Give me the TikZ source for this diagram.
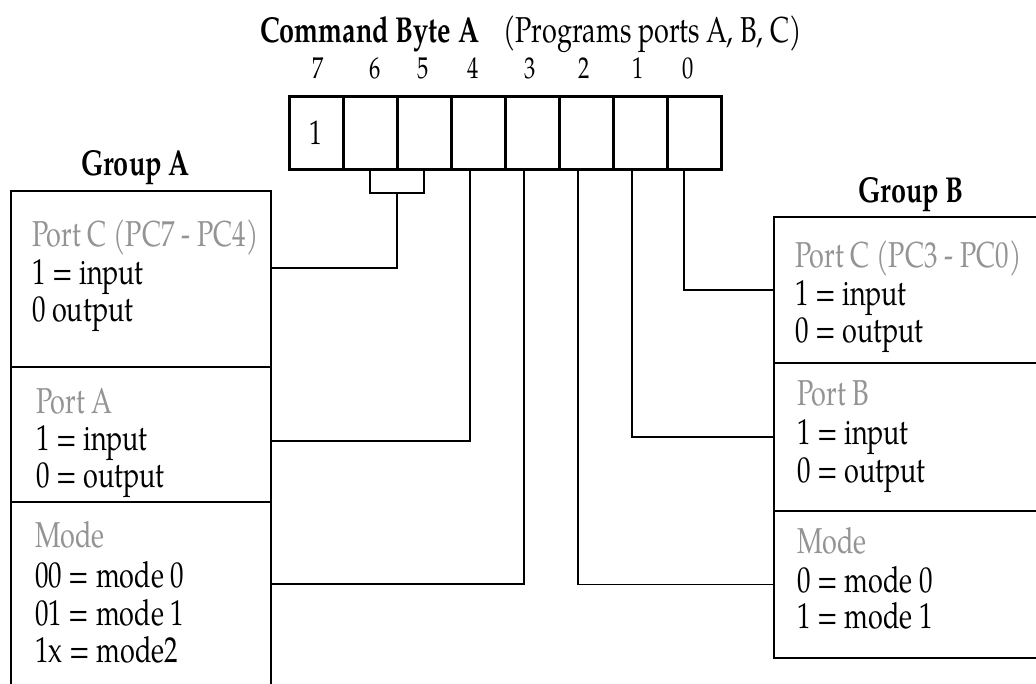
\documentclass[tikz,border=0pt]{standalone}
\usepackage{fontspec}
\setmainfont{TeX Gyre Pagella}[FakeStretch=0.75]
\usetikzlibrary{calc}
\definecolor{headgray}{gray}{0.58}
\begin{document}
\begin{tikzpicture}[x=1pt,y=-1pt,
  txt/.style={anchor=base west, inner sep=0pt, outer sep=0pt, font=\fontsize{36}{37}\selectfont},
  hd/.style={txt, text=headgray},
  digit/.style={txt, anchor=base, font=\fontsize{30}{31}\selectfont},
  bold/.style={txt, font=\fontsize{36}{37}\selectfont\bfseries},
  cell/.style={draw, line width=3pt, minimum width=54pt, minimum height=73pt, inner sep=0pt, outer sep=0pt, font=\fontsize{34}{35}\selectfont},
  sect/.style={draw, line width=1.8pt, inner sep=0pt, outer sep=0pt},
  conn/.style={draw, line width=1.7pt}]
\useasboundingbox (0,0) rectangle (1036,683);
\clip (0,0) rectangle (1036,683);
\fill[white] (0,0) rectangle (1036,683);

% title
\node[bold] (title) at (260,42) {Command Byte A};
\node[txt] (sub) at (503,42) {(Programs ports A, B, C)};

% bit numbers
\foreach \i/\x in {7/318,6/375,5/423,4/473,3/530,2/584,1/638,0/688}
  \node[digit] (d\i) at (\x,78) {\i};

% register cells
\foreach \i/\x in {6/370,5/424,4/478,3/532,2/586,1/640,0/694}
  \node[cell] (b\i) at (\x,132.5) {};
\node[cell] (b7) at (316,132.5) {1};

% group labels
\node[bold] (gA) at (81,175) {Group A};
\node[bold] (gB) at (858,202) {Group B};

% group A sections
\node[sect, minimum width=260pt, minimum height=176pt] (pcA) at (141,279) {};
\node[sect, minimum width=260pt, minimum height=135pt] (paA) at (141,434.5) {};
\node[sect, minimum width=260pt, minimum height=218pt] (mdA) at (141,611) {};

% group B sections
\node[sect, minimum width=286pt, minimum height=146pt] (pcB) at (917,290) {};
\node[sect, minimum width=286pt, minimum height=148pt] (pbB) at (917,437) {};
\node[sect, minimum width=286pt, minimum height=147pt] (mdB) at (917,584.5) {};

% group A texts
\node[hd]  (a1) at (32,246) {Port C (PC7 - PC4)};
\node[txt] (a2) at (32,284) {1 = input};
\node[txt] (a3) at (32,321) {0 output};
\node[hd]  (a4) at (36,413) {Port A};
\node[txt] (a5) at (36,450) {1 = input};
\node[txt] (a6) at (36,487) {0 = output};
\node[hd]  (a7) at (35,547) {Mode};
\node[txt] (a8) at (35,587) {00 = mode 0};
\node[txt] (a9) at (35,625) {01 = mode 1};
\node[txt] (a10) at (35,662) {1x = mode2};

% group B texts
\node[hd]  (c1) at (795,267) {Port C (PC3 - PC0)};
\node[txt] (c2) at (795,305) {1 = input};
\node[txt] (c3) at (795,342) {0 = output};
\node[hd]  (c4) at (797,405) {Port B};
\node[txt] (c5) at (797,444) {1 = input};
\node[txt] (c6) at (797,482) {0 = output};
\node[hd]  (c7) at (797,553) {Mode};
\node[txt] (c8) at (797,592) {0 = mode 0};
\node[txt] (c9) at (797,628) {1 = mode 1};

% connectors
\draw[conn] (b6.south) -- ++(0,24) -| (b5.south);
\draw[conn] ($(b6.south)!0.5!(b5.south)+(0,24)$) |- ([yshift=11pt]pcA.east);
\draw[conn] ([xshift=-8pt]b4.south) |- ([yshift=-6.5pt]paA.east);
\draw[conn] ([xshift=-8pt]b3.south) |- ([yshift=27pt]mdA.east);
\draw[conn] ([xshift=-8pt]b2.south) |- (mdB.west);
\draw[conn] ([xshift=-8pt]b1.south) |- (pbB.west);
\draw[conn] ([xshift=-10pt]b0.south) |- (pcB.west);
\end{tikzpicture}
\end{document}
